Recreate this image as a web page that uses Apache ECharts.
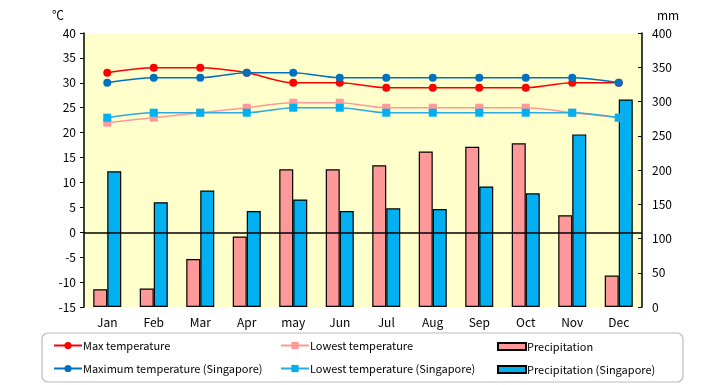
<!DOCTYPE html>
<html><head><meta charset="utf-8">
<script src="https://cdn.jsdelivr.net/npm/echarts@6/dist/echarts.min.js"></script>
<style>html,body{margin:0;padding:0;background:#fff}#c{width:720px;height:385px}</style>
</head><body><div id="c"></div>
<script>
const months = ['Jan','Feb','Mar','Apr','may','Jun','Jul','Aug','Sep','Oct','Nov','Dec'];
const maxTemp = [32,33,33,32,30,30,29,29,29,29,30,30];
const lowTemp = [22,23,24,25,26,26,25,25,25,25,24,23];
const precip = [26,27,70,103,201,201,207,227,234,239,134,46];
const maxTempSg = [30,31,31,32,32,31,31,31,31,31,31,30];
const lowTempSg = [23,24,24,24,25,25,24,24,24,24,24,23];
const precipSg = [198,153,170,140,157,140,144,143,176,166,252,303];
const tempTicks = {min:-15,max:40,interval:5};
const rainTicks = {min:0,max:400,interval:50};

const FONT = 'Noto Sans CJK JP';
const chart = echarts.init(document.getElementById('c'));
const txt = {color:'#000', fontFamily:FONT, fontSize:12};
function leg(name, left, top, isBar){
  const o = {data:[isBar ? {name:name, icon:'rect'} : name], left:left, top:top, padding:0,
    itemWidth:28, itemHeight:isBar ? 7 : 9, itemGap:2,
    textStyle:{color:'#000', fontFamily:FONT, fontSize:11, padding:[0,0,0,-4]}, selectedMode:false};
  return o;
}
chart.setOption({
  animation:false,
  backgroundColor:'#fff',
  textStyle:{fontFamily:FONT},
  grid:{left:84, right:78, top:33, bottom:78, show:true, backgroundColor:'#FFFFCC', borderWidth:0},
  graphic:[
    {type:'rect', shape:{x:42,y:333,width:641,height:49,r:6}, style:{fill:'#fff',stroke:'#bbb',lineWidth:1.2}, z:-1},
    {type:'text', left:52, top:9, style:{text:'℃', fill:'#000', font:'12px '+FONT}},
    {type:'text', left:657, top:9, style:{text:'mm', fill:'#000', font:'12px '+FONT}}
  ],
  legend:[
    leg('Max temperature', 53, 340),
    leg('Maximum temperature (Singapore)', 53, 363),
    leg('Lowest temperature', 280, 340),
    leg('Lowest temperature (Singapore)', 280, 363),
    leg('Precipitation', 497, 341, true),
    leg('Precipitation (Singapore)', 497, 364, true)
  ],
  xAxis:{type:'category', data:months, axisLine:{show:false}, axisTick:{show:false},
    axisLabel:Object.assign({}, txt, {margin:9})},
  yAxis:[
    {type:'value', min:tempTicks.min, max:tempTicks.max, interval:tempTicks.interval, position:'left',
     axisLine:{show:true, lineStyle:{color:'#000', width:1.5}}, axisTick:{show:true, length:4, lineStyle:{color:'#000'}},
     splitLine:{show:false}, axisLabel:Object.assign({}, txt, {margin:8})},
    {type:'value', min:rainTicks.min, max:rainTicks.max, interval:rainTicks.interval, position:'right',
     axisLine:{show:true, lineStyle:{color:'#000', width:1.5}}, axisTick:{show:true, inside:true, length:4, lineStyle:{color:'#000'}},
     splitLine:{show:false}, axisLabel:Object.assign({}, txt, {margin:10})}
  ],
  series:[
    {name:'Precipitation', type:'bar', yAxisIndex:1, data:precip, barWidth:14, barGap:'0%',
     itemStyle:{color:'#FF9999', borderColor:'#000', borderWidth:1.2}},
    {name:'Precipitation (Singapore)', type:'bar', yAxisIndex:1, data:precipSg, barWidth:14, barGap:'0%',
     itemStyle:{color:'#00B0F0', borderColor:'#000', borderWidth:1.2}},
    {name:'Lowest temperature', type:'line', yAxisIndex:0, data:lowTemp, smooth:0.3, symbol:'rect', symbolSize:8,
     lineStyle:{color:'#FF9999', width:1.5}, itemStyle:{color:'#FF9999'}, z:3},
    {name:'Lowest temperature (Singapore)', type:'line', yAxisIndex:0, data:lowTempSg, smooth:0.3, symbol:'rect', symbolSize:8,
     lineStyle:{color:'#2AAAE0', width:1.5}, itemStyle:{color:'#00B0F0'}, z:4},
    {name:'Max temperature', type:'line', yAxisIndex:0, data:maxTemp, smooth:0.3, symbol:'circle', symbolSize:8,
     lineStyle:{color:'#FF0000', width:1.5}, itemStyle:{color:'#FF0000'}, z:5,
     markLine:{silent:true, symbol:'none', label:{show:false}, lineStyle:{color:'#000', width:1.5, type:'solid'}, data:[{yAxis:0}]}},
    {name:'Maximum temperature (Singapore)', type:'line', yAxisIndex:0, data:maxTempSg, smooth:0.3, symbol:'circle', symbolSize:8,
     lineStyle:{color:'#0070C0', width:1.5}, itemStyle:{color:'#0070C0'}, z:6}
  ]
});
</script></body></html>
